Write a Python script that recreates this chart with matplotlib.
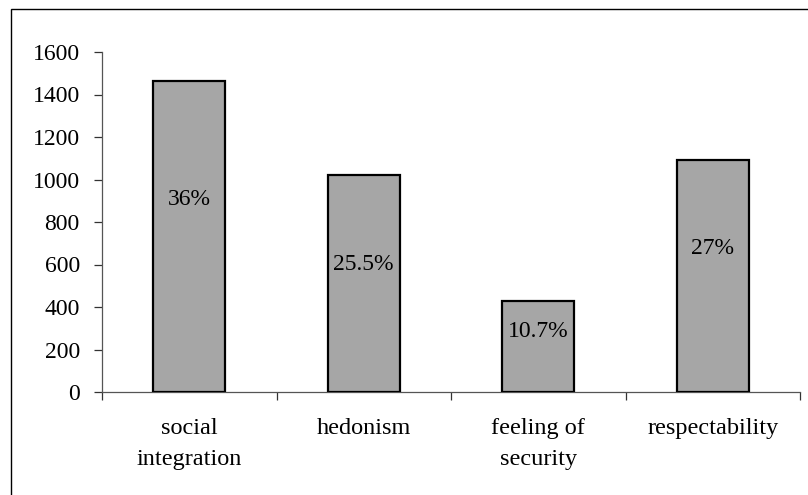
import matplotlib
matplotlib.use("Agg")
import matplotlib.pyplot as plt
from matplotlib.patches import Rectangle
from matplotlib.ticker import FixedLocator, NullFormatter

categories = ["social\nintegration", "hedonism", "feeling of\nsecurity", "respectability"]
values = [1465, 1020, 430, 1090]
pct_labels = ["36%", "25.5%", "10.7%", "27%"]
y_ticks = [0, 200, 400, 600, 800, 1000, 1200, 1400, 1600]

# layout only: vertical placement of the in-bar labels as share of bar height
label_frac = [0.617, 0.586, 0.66, 0.62]

plt.rcParams['font.family'] = ['Liberation Serif', 'DejaVu Serif']

W, H = 808, 495
fig = plt.figure(figsize=(W / 100, H / 100), dpi=100)
ax = fig.add_axes([102 / W, 1 - 392 / H, (800 - 102) / W, (392 - 52) / H])

x = list(range(len(categories)))
ax.bar(x, values, width=0.41, color="#a6a6a6", edgecolor="black", linewidth=1.6, zorder=3)

for xi, v, lab, fr in zip(x, values, pct_labels, label_frac):
    ax.text(xi, v * fr, lab, ha="center", va="center", fontsize=17, color="black", zorder=4)

ax.set_xlim(-0.5, len(categories) - 0.5)
ax.set_ylim(y_ticks[0], y_ticks[-1])
ax.set_yticks(y_ticks)
ax.set_yticklabels([str(t) for t in y_ticks], fontsize=17)

ax.xaxis.set_major_locator(FixedLocator([i - 0.5 for i in range(len(categories) + 1)]))
ax.xaxis.set_major_formatter(NullFormatter())
ax.xaxis.set_minor_locator(FixedLocator(x))
ax.set_xticklabels(categories, minor=True, fontsize=17.5, linespacing=1.6)
ax.tick_params(axis="x", which="minor", length=0, pad=19)
ax.tick_params(axis="x", which="major", length=6, width=0.9, color="#333333", direction="out")
ax.tick_params(axis="y", length=6, width=0.9, color="#333333", direction="out", pad=10)

for s in ["top", "right"]:
    ax.spines[s].set_visible(False)
for s in ["left", "bottom"]:
    ax.spines[s].set_color("#555555")
    ax.spines[s].set_linewidth(0.9)

border = Rectangle((11 / W, -0.2), 1.5, 0.2 + (1 - 9 / H),
                   transform=fig.transFigure, fill=False, edgecolor="black",
                   linewidth=1.0, clip_on=False)
fig.patches.append(border)

fig.savefig("out.png", dpi=100)
